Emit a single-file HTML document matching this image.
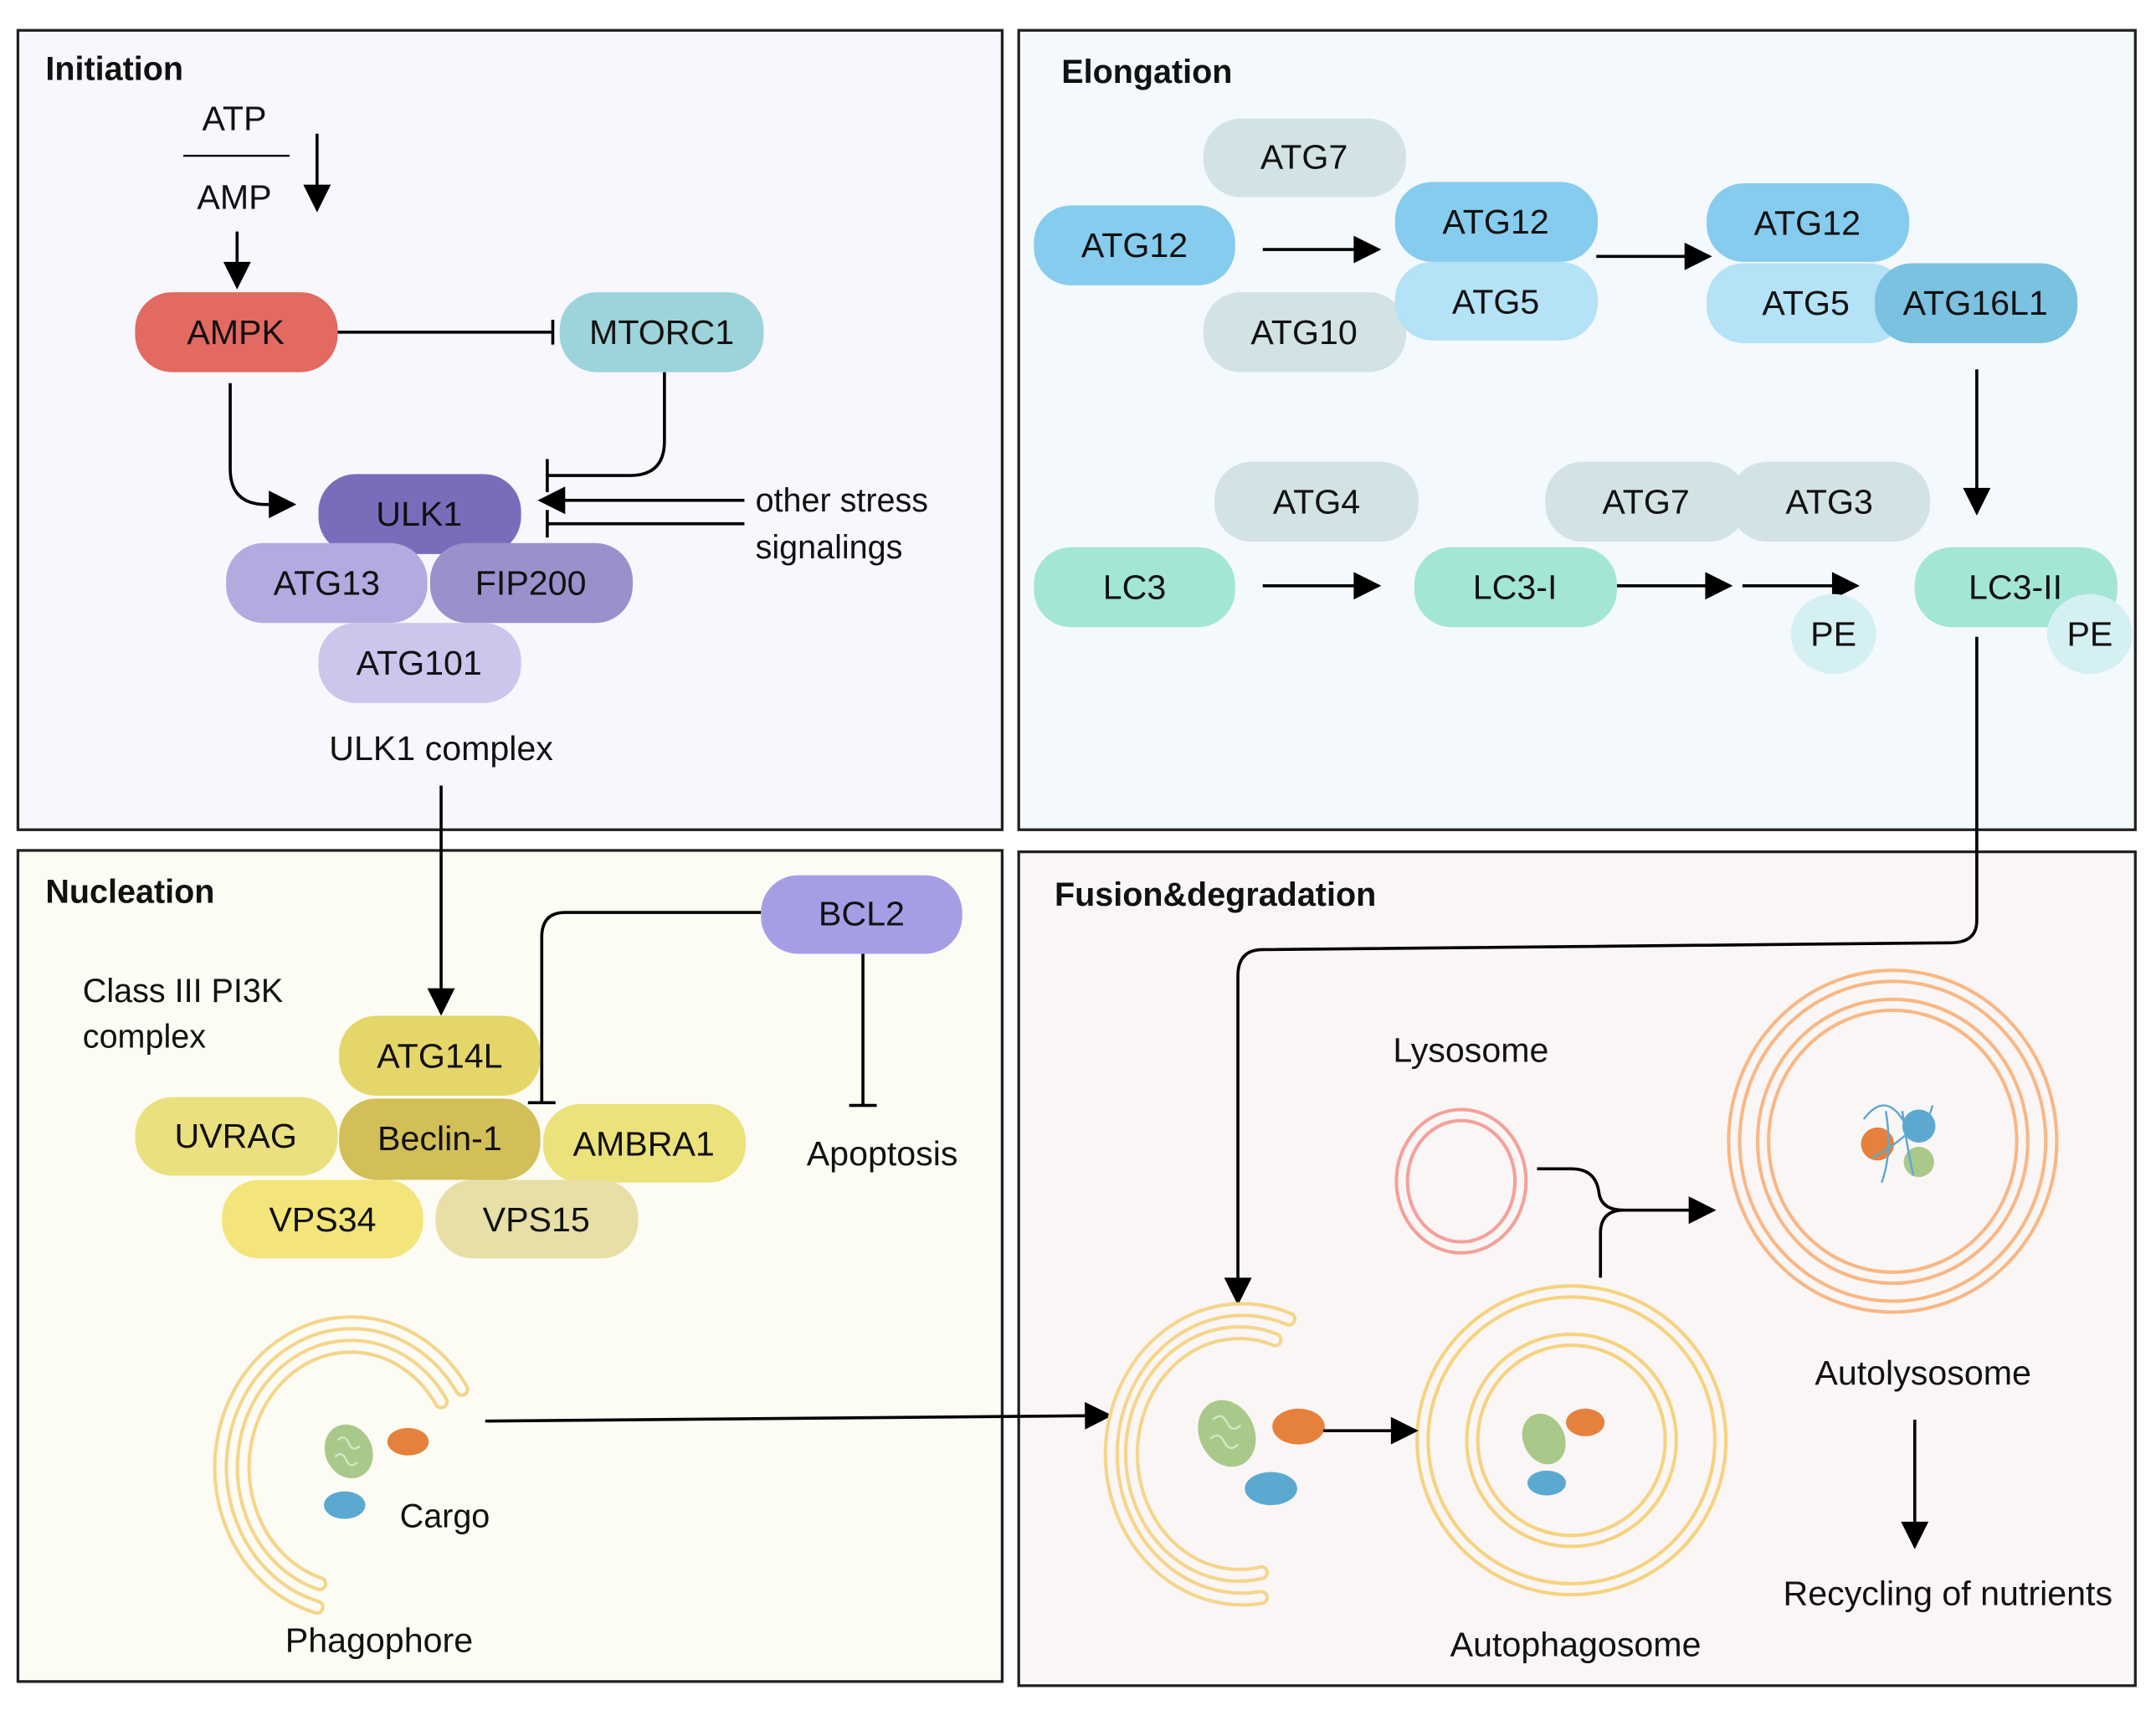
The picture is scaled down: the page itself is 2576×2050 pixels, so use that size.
<!DOCTYPE html>
<html><head><meta charset="utf-8"><style>
html,body{margin:0;padding:0;background:#fff;}
svg{display:block;}
text{font-family:"Liberation Sans",sans-serif;fill:#111;}
.t{font-size:25px;text-anchor:middle;dominant-baseline:central;}
.h{font-size:24px;font-weight:bold;}
.l{font-size:24px;}
.ln{stroke:#000;stroke-width:2.2;fill:none;}
</style></head><body>
<svg width="2576" height="2050" viewBox="0 0 1564 1245" preserveAspectRatio="none">
<defs>
<marker id="A" viewBox="0 0 10 10" refX="9" refY="5" markerWidth="22" markerHeight="20" markerUnits="userSpaceOnUse" orient="auto"><path d="M0,0L10,5L0,10z" fill="#000"/></marker>
</defs>
<rect x="13" y="22" width="714" height="580" fill="#f7f7fd" stroke="#222" stroke-width="2"/>
<rect x="739" y="22" width="810" height="580" fill="#f4f9fd" stroke="#222" stroke-width="2"/>
<rect x="13" y="617" width="714" height="603" fill="#fcfcf4" stroke="#222" stroke-width="2"/>
<rect x="739" y="618" width="810" height="605" fill="#faf6f6" stroke="#222" stroke-width="2"/>
<text class="h" x="33" y="58">Initiation</text>
<text class="h" x="770" y="60">Elongation</text>
<text class="h" x="33" y="655">Nucleation</text>
<text class="h" x="765" y="657">Fusion&amp;degradation</text>

<text class="t" x="170" y="86">ATP</text>
<line x1="133" y1="113" x2="210" y2="113" stroke="#000" stroke-width="1.5"/>
<text class="t" x="170" y="143">AMP</text>
<line class="ln" x1="230" y1="97" x2="230" y2="152" marker-end="url(#A)"/>
<line class="ln" x1="172" y1="168" x2="172" y2="208" marker-end="url(#A)"/>
<path class="ln" d="M245,241H401M401,232V250"/>
<path class="ln" d="M167,278V340Q167,366 193,366H213" marker-end="url(#A)"/>
<path class="ln" d="M482,270V320Q482,345 457,345H397M397,333V357"/>
<line class="ln" x1="540" y1="363" x2="392" y2="363" marker-end="url(#A)"/>
<path class="ln" d="M540,380H397M397,370V390"/>
<rect x="98" y="212" width="147" height="58" rx="27" fill="#e36a61"/><text class="t" x="171" y="241">AMPK</text>
<rect x="406" y="212" width="148" height="58" rx="27" fill="#9dd3da"/><text class="t" x="480" y="241">MTORC1</text>
<rect x="231" y="344" width="147" height="58" rx="27" fill="#7b6cbb"/><text class="t" x="304" y="373">ULK1</text>
<rect x="164" y="394" width="146" height="58" rx="27" fill="#b3aae0"/><text class="t" x="237" y="423">ATG13</text>
<rect x="312" y="394" width="147" height="58" rx="27" fill="#9b90cc"/><text class="t" x="385" y="423">FIP200</text>
<rect x="231" y="452" width="147" height="58" rx="27" fill="#ccc5ec"/><text class="t" x="304" y="481">ATG101</text>
<text class="l" x="548" y="371">other stress</text>
<text class="l" x="548" y="405">signalings</text>
<text class="t" x="320" y="543">ULK1 complex</text>
<line class="ln" x1="320" y1="570" x2="320" y2="735" marker-end="url(#A)"/>

<text class="l" x="60" y="727">Class III PI3K</text>
<text class="l" x="60" y="760">complex</text>
<path class="ln" d="M552,662H410Q393,662 393,680V800M383,800H403"/>
<path class="ln" d="M626,692V802M616,802H636"/>
<rect x="552" y="635" width="146" height="57" rx="27" fill="#a69ee5"/><text class="t" x="625" y="663">BCL2</text>
<text class="t" x="640" y="837">Apoptosis</text>
<rect x="246" y="737" width="146" height="58" rx="27" fill="#e5d66a"/><text class="t" x="319" y="766">ATG14L</text>
<rect x="98" y="796" width="147" height="57" rx="27" fill="#ebe07f"/><text class="t" x="171" y="824">UVRAG</text>
<rect x="394" y="801" width="147" height="57" rx="27" fill="#ece27b"/><text class="t" x="467" y="830">AMBRA1</text>
<rect x="246" y="797" width="146" height="59" rx="27" fill="#d3bf58"/><text class="t" x="319" y="826">Beclin-1</text>
<rect x="161" y="856" width="146" height="57" rx="27" fill="#f3e57a"/><text class="t" x="234" y="885">VPS34</text>
<rect x="316" y="856" width="147" height="57" rx="27" fill="#e7dfa5"/><text class="t" x="389" y="885">VPS15</text>
<g fill="none" stroke-linecap="round">
<path d="M335,1008A95,105 0 1 0 230,1166" stroke="#f5d58a" stroke-width="11"/>
<path d="M335,1008A95,105 0 1 0 230,1166" stroke="#fcfcf4" stroke-width="6"/>
<path d="M320,1017A78,88 0 1 0 232,1149" stroke="#f5d58a" stroke-width="11"/>
<path d="M320,1017A78,88 0 1 0 232,1149" stroke="#fcfcf4" stroke-width="6"/>
</g>
<ellipse cx="253" cy="1053" rx="17" ry="20" fill="#a9c98a" transform="rotate(-25 253 1053)"/>
<path d="M245,1045q5,-5 8,2t8,2M243,1057q5,-5 8,2t8,2" stroke="#d5e6c4" stroke-width="1.5" fill="none"/>
<ellipse cx="296" cy="1046" rx="15" ry="10" fill="#e5813c"/>
<ellipse cx="250" cy="1092" rx="15" ry="10" fill="#5ba9d0"/>
<text class="l" x="290" y="1108">Cargo</text>
<text class="t" x="275" y="1190">Phagophore</text>
<line class="ln" x1="352" y1="1031" x2="805" y2="1027" marker-end="url(#A)"/>

<rect x="873" y="86" width="147" height="57" rx="27" fill="#d3e3e5"/><text class="t" x="946" y="114">ATG7</text>
<rect x="750" y="149" width="146" height="58" rx="27" fill="#86ccee"/><text class="t" x="823" y="178">ATG12</text>
<rect x="873" y="212" width="147" height="58" rx="27" fill="#d3e3e5"/><text class="t" x="946" y="241">ATG10</text>
<line class="ln" x1="916" y1="181" x2="1000" y2="181" marker-end="url(#A)"/>
<rect x="1012" y="190" width="147" height="57" rx="27" fill="#b4e2f6"/><text class="t" x="1085" y="219">ATG5</text>
<rect x="1012" y="132" width="147" height="58" rx="27" fill="#86ccee"/><text class="t" x="1085" y="161">ATG12</text>
<line class="ln" x1="1158" y1="186" x2="1240" y2="186" marker-end="url(#A)"/>
<rect x="1238" y="191" width="145" height="58" rx="27" fill="#b4e2f6"/><text class="t" x="1310" y="220">ATG5</text>
<rect x="1238" y="133" width="147" height="57" rx="27" fill="#86ccee"/><text class="t" x="1311" y="162">ATG12</text>
<rect x="1360" y="191" width="147" height="58" rx="27" fill="#7bc1e0"/><text class="t" x="1433" y="220">ATG16L1</text>
<line class="ln" x1="1434" y1="268" x2="1434" y2="372" marker-end="url(#A)"/>
<rect x="881" y="335" width="148" height="58" rx="27" fill="#d3e3e5"/><text class="t" x="955" y="364">ATG4</text>
<rect x="750" y="397" width="146" height="58" rx="27" fill="#a3e6d6"/><text class="t" x="823" y="426">LC3</text>
<line class="ln" x1="916" y1="425" x2="1000" y2="425" marker-end="url(#A)"/>
<rect x="1026" y="397" width="147" height="58" rx="27" fill="#a3e6d6"/><text class="t" x="1099" y="426">LC3-I</text>
<line class="ln" x1="1173" y1="425" x2="1255" y2="425" marker-end="url(#A)"/>
<line class="ln" x1="1264" y1="425" x2="1347" y2="425" marker-end="url(#A)"/>
<rect x="1121" y="335" width="146" height="58" rx="27" fill="#d3e3e5"/><text class="t" x="1194" y="364">ATG7</text>
<rect x="1255" y="335" width="145" height="58" rx="27" fill="#d3e3e5"/><text class="t" x="1327" y="364">ATG3</text>
<ellipse cx="1330" cy="460" rx="31" ry="29" fill="#d4f0f3"/><text class="t" x="1330" y="460">PE</text>
<rect x="1389" y="397" width="147" height="58" rx="27" fill="#a3e6d6"/><text class="t" x="1462" y="426">LC3-II</text>
<ellipse cx="1516" cy="460" rx="31" ry="29" fill="#d4f0f3"/><text class="t" x="1516" y="460">PE</text>
<path class="ln" d="M1434,462V668Q1434,684 1415,684L916,689Q898,689 898,708V945" marker-end="url(#A)"/>

<text class="t" x="1067" y="762">Lysosome</text>
<ellipse cx="1060" cy="857" rx="47" ry="52" fill="none" stroke="#f5a09a" stroke-width="2.5"/>
<ellipse cx="1060" cy="857" rx="39" ry="44" fill="none" stroke="#f5a09a" stroke-width="2.5"/>
<path class="ln" d="M1115,848H1140Q1158,848 1160,866Q1162,878 1178,878H1243" marker-end="url(#A)"/>
<path class="ln" d="M1161,927V895Q1161,878 1178,878"/>
<g fill="none" stroke="#f9b784" stroke-width="2.5">
<ellipse cx="1373" cy="828" rx="119" ry="124"/>
<ellipse cx="1373" cy="828" rx="111" ry="116"/>
<ellipse cx="1373" cy="828" rx="98" ry="103"/>
<ellipse cx="1373" cy="828" rx="90" ry="95"/>
</g>
<g>
<circle cx="1392" cy="817" r="12" fill="#5ba9d0"/>
<circle cx="1362" cy="830" r="12" fill="#e5813c"/>
<circle cx="1392" cy="843" r="11" fill="#a9c98a"/>
<path d="M1352,812q15,-20 28,0t22,-10M1368,806q5,30 -3,52M1380,806q3,25 8,47M1358,840q20,-10 38,-30" stroke="#5ba9d0" stroke-width="1.5" fill="none"/>
</g>
<text class="t" x="1395" y="996">Autolysosome</text>
<line class="ln" x1="1389" y1="1030" x2="1389" y2="1122" marker-end="url(#A)"/>
<text class="t" x="1413" y="1156">Recycling of nutrients</text>
<g fill="none" stroke="#f7d27e" stroke-width="2.5">
<ellipse cx="1140" cy="1045" rx="112" ry="112"/>
<ellipse cx="1140" cy="1045" rx="104" ry="104"/>
<ellipse cx="1140" cy="1045" rx="76" ry="77"/>
<ellipse cx="1140" cy="1045" rx="68" ry="69"/>
</g>
<ellipse cx="1120" cy="1044" rx="15" ry="19" fill="#a9c98a" transform="rotate(-25 1120 1044)"/>
<ellipse cx="1150" cy="1032" rx="14" ry="10" fill="#e5813c"/>
<ellipse cx="1122" cy="1076" rx="14" ry="9" fill="#5ba9d0"/>
<text class="t" x="1143" y="1193">Autophagosome</text>
<g fill="none" stroke-linecap="round">
<path d="M935,957A95,105 0 1 0 915,1159" stroke="#f5d58a" stroke-width="11"/>
<path d="M935,957A95,105 0 1 0 915,1159" stroke="#faf6f6" stroke-width="6"/>
<path d="M925,972A78,88 0 1 0 915,1141" stroke="#f5d58a" stroke-width="11"/>
<path d="M925,972A78,88 0 1 0 915,1141" stroke="#faf6f6" stroke-width="6"/>
</g>
<ellipse cx="890" cy="1040" rx="20" ry="25" fill="#a9c98a" transform="rotate(-25 890 1040)"/>
<path d="M880,1030q6,-6 10,2t10,2M878,1044q6,-6 10,2t10,2" stroke="#d5e6c4" stroke-width="1.5" fill="none"/>
<ellipse cx="942" cy="1035" rx="19" ry="13" fill="#e5813c"/>
<ellipse cx="922" cy="1080" rx="19" ry="12" fill="#5ba9d0"/>
<line class="ln" x1="960" y1="1038" x2="1027" y2="1038" marker-end="url(#A)"/>
</svg>
</body></html>
